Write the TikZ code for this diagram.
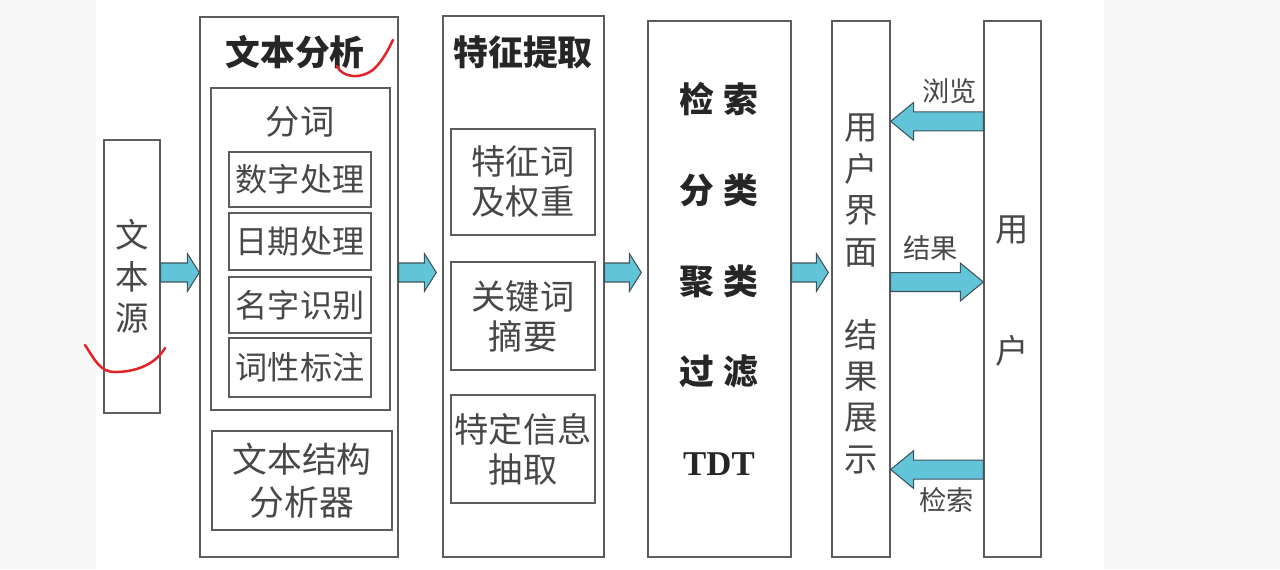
\documentclass[tikz,border=0pt]{standalone}
\usepackage{fontspec}
\setmainfont{Noto Sans CJK SC}
\newfontfamily\tdtfont{Liberation Serif}
\usepackage{tikz}
\usetikzlibrary{calc,positioning}

\definecolor{boxgray}{HTML}{5C5C5C}
\definecolor{txtgray}{HTML}{474747}
\definecolor{arrowfill}{HTML}{62C4D9}
\definecolor{arrowline}{HTML}{3E525A}
\definecolor{markred}{HTML}{E2222A}

% fat block arrow: #1 head length (px), #2 tail, #3 tip
\newcommand{\fatarrow}[3]{%
  \draw[fat] let \p1=#2, \p2=#3, \n1={sign(\x2-\x1)*#1*0.5691} in
    (\x1,\y1+5.4pt) -- (\x2-\n1*1pt,\y1+5.4pt) -- (\x2-\n1*1pt,\y1+10.8pt) -- (\x2,\y1)
    -- (\x2-\n1*1pt,\y1-10.8pt) -- (\x2-\n1*1pt,\y1-5.4pt) -- (\x1,\y1-5.4pt) -- cycle;}

\begin{document}
\begin{tikzpicture}[x=0.02cm, y=-0.02cm,
  box/.style 2 args={draw=boxgray, line width=0.8pt, fill=white, inner sep=0pt, minimum width=#1, minimum height=#2},
  txt/.style={inner sep=0pt, text=txtgray, align=center, font=\fontsize{19.5}{22.8}\selectfont},
  title/.style={inner sep=0pt, text=black!85, font=\fontsize{19.8}{23}\selectfont\bfseries},
  lbl/.style={inner sep=0pt, text=txtgray, font=\fontsize{15.5}{18}\selectfont},
  fat/.style={draw=arrowline, line width=0.6pt, fill=arrowfill, line join=miter},
  redmark/.style={draw=markred, line width=0.05cm, line cap=round},
]
\useasboundingbox (0,0) rectangle (1280,569);
\fill[black!3] (0,0) rectangle (96,569);
\fill[black!3] (1104,0) rectangle (1280,569);

%% ---- Text source ----
\node[box={1.12cm}{5.46cm}] (src) at (132,276.5) {};
\node[txt, font=\fontsize{19}{23.6}\selectfont] (srct) at (src) {文\\本\\源};

%% ---- Text analysis ----
\node[box={3.96cm}{10.8cm}] (ana) at (299,287) {};
\node[title] (anat) at (295,52) {文本分析};
\node[box={3.58cm}{6.44cm}] (seg) at (300.5,249) {};
\node[txt] (segt) at (300,122) {分词};
\node[box={2.84cm}{1.10cm}, txt, font=\fontsize{18.3}{22}\selectfont] (d1) at (300,179.5) {数字处理};
\node[box={2.84cm}{1.14cm}, txt, font=\fontsize{18.3}{22}\selectfont] (d2) at (300,241.5) {日期处理};
\node[box={2.84cm}{1.12cm}, txt, font=\fontsize{18.3}{22}\selectfont] (d3) at (300,305) {名字识别};
\node[box={2.84cm}{1.18cm}, txt, font=\fontsize{18.3}{22}\selectfont] (d4) at (300,367.5) {词性标注};
\node[box={3.6cm}{1.98cm}, txt, font=\fontsize{19.8}{24.5}\selectfont] (struct) at (302,480.5) {文本结构\\分析器};

%% ---- Feature extraction ----
\node[box={3.22cm}{10.82cm}] (fe) at (523.5,286.5) {};
\node[title] (fet) at (523,52) {特征提取};
\node[box={2.88cm}{2.12cm}, txt] (f1) at (523,182) {特征词\\及权重};
\node[box={2.88cm}{2.16cm}, txt] (f2) at (523,316) {关键词\\摘要};
\node[box={2.88cm}{2.16cm}, txt] (f3) at (523,449) {特定信息\\抽取};

%% ---- Applications ----
\node[box={2.86cm}{10.72cm}] (app) at (719.5,289) {};
\node[txt, text=black!85, font=\fontsize{19.8}{51.7}\selectfont\bfseries] (appt) at (719,279)
  {检\hspace{0.2cm}索\\分\hspace{0.2cm}类\\聚\hspace{0.2cm}类\\过\hspace{0.2cm}滤\\{\tdtfont TDT}};

%% ---- User interface / user ----
\node[box={1.16cm}{10.72cm}] (ui) at (861,289) {};
\node[txt, font=\fontsize{19}{23.6}\selectfont] (uit) at (861,294) {用\\户\\界\\面\\[23.6pt]结\\果\\展\\示};
\node[box={1.14cm}{10.72cm}] (usr) at (1012.5,289) {};
\node[txt, font=\fontsize{19}{23.6}\selectfont] (usrt) at (1012,291) {用\\[45.8pt]户};

%% ---- Arrows ----
\coordinate (row) at ($(src.east)+(0,-4)$);
\fatarrow{12}{(row)}{(row -| ana.west)}
\fatarrow{12}{(row -| ana.east)}{($(row -| fe.west)+(-6,0)$)}
\fatarrow{12}{(row -| fe.east)}{($(row -| app.west)+(-6,0)$)}
\fatarrow{12}{(row -| app.east)}{($(row -| ui.west)+(-3,0)$)}

\coordinate (b1) at ($(usr.north west)!0.188!(usr.south west)$);
\coordinate (b2) at ($(ui.north east)!0.487!(ui.south east)$);
\coordinate (b3) at ($(usr.north west)!0.836!(usr.south west)$);
\fatarrow{23}{(b1)}{(b1 -| ui.east)}
\fatarrow{23}{(b2)}{(b2 -| usr.west)}
\fatarrow{23}{(b3)}{(b3 -| ui.east)}
\node[lbl, above left=0.34cm and 0.12cm of b1] (browse) {浏览};
\node[lbl, above right=0.42cm and 0.24cm of b2] (result) {结果};
\node[lbl, below left=0.36cm and 0.18cm of b3] (search) {检索};

%% ---- hand marks ----
\draw[redmark] (337,66) .. controls (342,78) and (362,80) .. (375,68) .. controls (383,60) and (388,50) .. (393,40);
\draw[redmark] (85,345) .. controls (95,360) and (100,372) .. (115,372) .. controls (135,372) and (155,365) .. (165,348);

\end{tikzpicture}
\end{document}
